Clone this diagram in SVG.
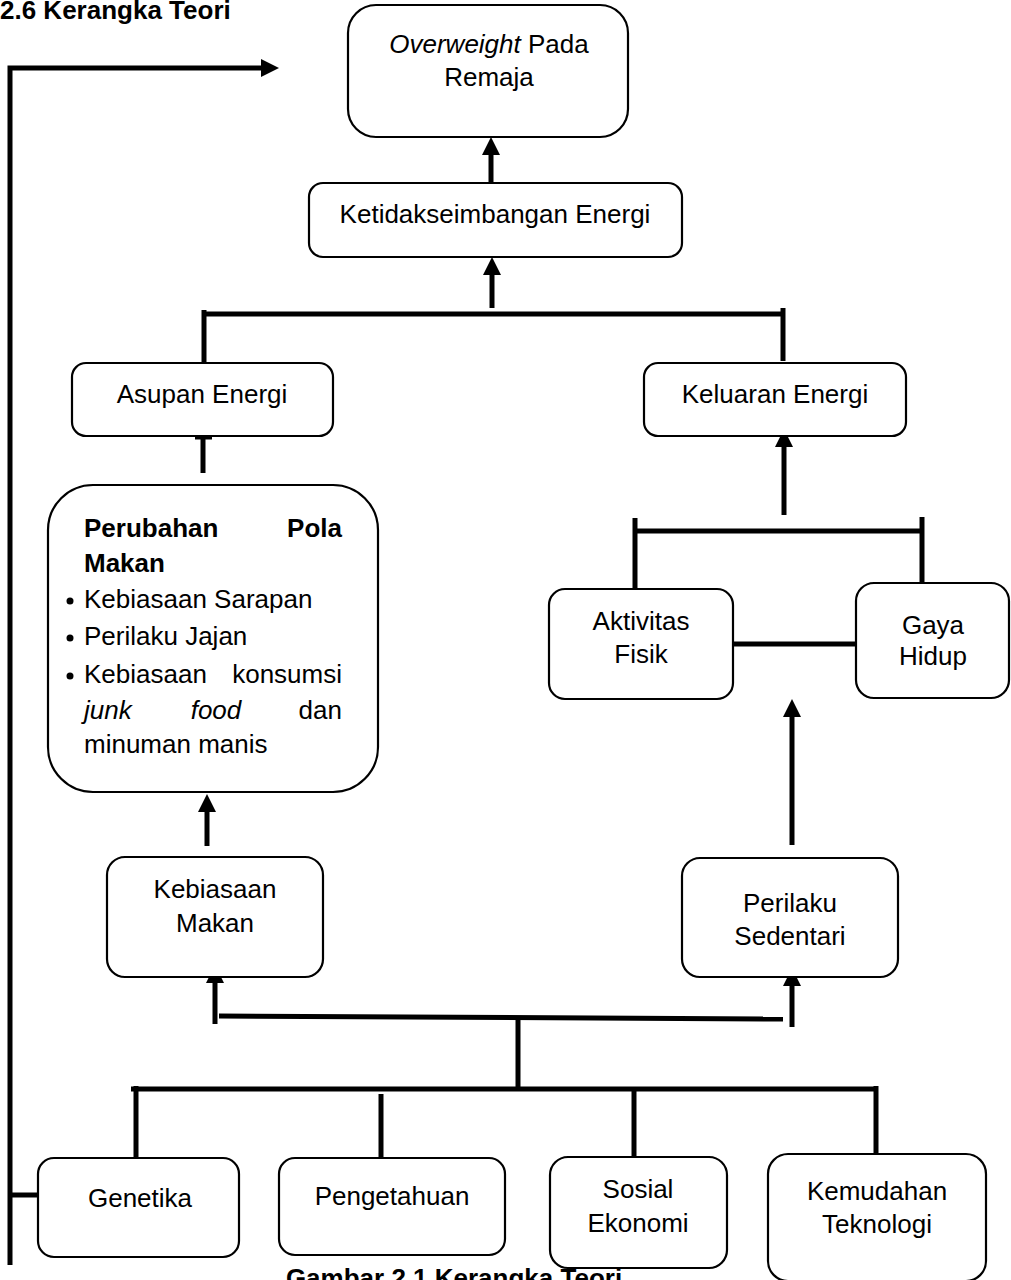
<svg xmlns="http://www.w3.org/2000/svg" width="1011" height="1280" viewBox="0 0 1011 1280">
<style>
.box{fill:#fff;stroke:#000;stroke-width:2.2}
.t{font-family:"Liberation Sans",Arial,sans-serif;font-size:26px;fill:#000}
.m{text-anchor:middle}
.e{text-anchor:end}
.b{font-weight:bold}
.i{font-style:italic}
.ln{stroke:#000;stroke-width:5;fill:none}
.ar{stroke:#000;stroke-width:5;fill:none;marker-end:url(#ah)}
</style>
<defs>
<marker id="ah" viewBox="0 0 18 18" refX="0" refY="9" markerWidth="18" markerHeight="18" markerUnits="userSpaceOnUse" orient="auto">
<path d="M0,0 L18,9 L0,18 z" fill="#000"/>
</marker>
</defs>
<rect width="1011" height="1280" fill="#fff"/>
<text class="t b" x="0" y="19">2.6 Kerangka Teori</text>

<g id="connectors">
<line class="ar" x1="491" y1="183" x2="491" y2="155"/>
<line class="ar" x1="492" y1="308" x2="492" y2="275"/>
<polyline class="ln" points="10,1265 10,68 262,68"/>
<path d="M261,59 L279,68 L261,77 z" fill="#000"/>
<line class="ln" x1="8" y1="1195" x2="38" y2="1195"/>
<line class="ln" x1="202" y1="314" x2="785" y2="314"/>
<line class="ln" x1="204" y1="310" x2="204" y2="362"/>
<line class="ln" x1="783" y1="308" x2="783" y2="361"/>
<line stroke="#000" stroke-width="3" x1="195" y1="438" x2="212" y2="438"/>
<line class="ln" x1="203" y1="437" x2="203" y2="473"/>
<line class="ar" x1="784" y1="515" x2="784" y2="447"/>
<line class="ln" x1="633" y1="531" x2="924" y2="531"/>
<line class="ln" x1="635" y1="518" x2="635" y2="591"/>
<line class="ln" x1="922" y1="517" x2="922" y2="587"/>
<line class="ln" x1="733" y1="644" x2="856" y2="644"/>
<line class="ar" x1="792" y1="845" x2="792" y2="717"/>
<line class="ar" x1="207" y1="846" x2="207" y2="812"/>
<line class="ar" x1="215" y1="1024" x2="215" y2="983"/>
<line class="ar" x1="792" y1="1027" x2="792" y2="986"/>
<line class="ln" x1="219" y1="1016" x2="783" y2="1019"/>
<line class="ln" x1="518" y1="1017" x2="518" y2="1089"/>
<line class="ln" x1="131" y1="1089" x2="878" y2="1089"/>
<line class="ln" x1="136" y1="1086" x2="136" y2="1162"/>
<line class="ln" x1="381" y1="1094" x2="381" y2="1158"/>
<line class="ln" x1="634" y1="1089" x2="634" y2="1157"/>
<line class="ln" x1="876" y1="1086" x2="876" y2="1160"/>
</g>

<g id="overweight">
<rect class="box" x="348" y="5" width="280" height="132" rx="28"/>
<text class="t m" x="489" y="53"><tspan class="i">Overweight</tspan> Pada</text>
<text class="t m" x="489" y="86">Remaja</text>
</g>
<g id="ketidakseimbangan">
<rect class="box" x="309" y="183" width="373" height="74" rx="14"/>
<text class="t m" x="495" y="223">Ketidakseimbangan Energi</text>
</g>
<g id="asupan">
<rect class="box" x="72" y="363" width="261" height="73" rx="14"/>
<text class="t m" x="202" y="403">Asupan Energi</text>
</g>
<g id="keluaran">
<rect class="box" x="644" y="363" width="262" height="73" rx="14"/>
<text class="t m" x="775" y="403">Keluaran Energi</text>
</g>
<g id="perubahan">
<rect class="box" x="48" y="485" width="330" height="307" rx="45"/>
<text class="t b" x="84" y="537">Perubahan</text>
<text class="t b e" x="342" y="537">Pola</text>
<text class="t b" x="84" y="572">Makan</text>
<circle cx="70" cy="601" r="3.5"/>
<text class="t" x="84" y="608">Kebiasaan Sarapan</text>
<circle cx="70" cy="638" r="3.5"/>
<text class="t" x="84" y="645">Perilaku Jajan</text>
<circle cx="70" cy="676" r="3.5"/>
<text class="t" x="84" y="683">Kebiasaan</text>
<text class="t e" x="342" y="683">konsumsi</text>
<text class="t i" x="84" y="719">junk</text>
<text class="t i m" x="216" y="719">food</text>
<text class="t e" x="342" y="719">dan</text>
<text class="t" x="84" y="753">minuman manis</text>
</g>
<g id="aktivitas">
<rect class="box" x="549" y="589" width="184" height="110" rx="16"/>
<text class="t m" x="641" y="630">Aktivitas</text>
<text class="t m" x="641" y="663">Fisik</text>
</g>
<g id="gaya">
<rect class="box" x="856" y="583" width="153" height="115" rx="18"/>
<text class="t m" x="933" y="634">Gaya</text>
<text class="t m" x="933" y="665">Hidup</text>
</g>
<g id="kebiasaan">
<rect class="box" x="107" y="857" width="216" height="120" rx="18"/>
<text class="t m" x="215" y="898">Kebiasaan</text>
<text class="t m" x="215" y="932">Makan</text>
</g>
<g id="perilaku">
<rect class="box" x="682" y="858" width="216" height="119" rx="18"/>
<text class="t m" x="790" y="912">Perilaku</text>
<text class="t m" x="790" y="945">Sedentari</text>
</g>
<g id="genetika">
<rect class="box" x="38" y="1158" width="201" height="99" rx="16"/>
<text class="t m" x="140" y="1207">Genetika</text>
</g>
<g id="pengetahuan">
<rect class="box" x="279" y="1158" width="226" height="97" rx="16"/>
<text class="t m" x="392" y="1205">Pengetahuan</text>
</g>
<g id="sosial">
<rect class="box" x="550" y="1157" width="177" height="111" rx="18"/>
<text class="t m" x="638" y="1198">Sosial</text>
<text class="t m" x="638" y="1232">Ekonomi</text>
</g>
<g id="kemudahan">
<rect class="box" x="768" y="1154" width="218" height="127" rx="20"/>
<text class="t m" x="877" y="1200">Kemudahan</text>
<text class="t m" x="877" y="1233">Teknologi</text>
</g>
<text class="t b m" x="454" y="1287">Gambar 2.1 Kerangka Teori</text>
</svg>
